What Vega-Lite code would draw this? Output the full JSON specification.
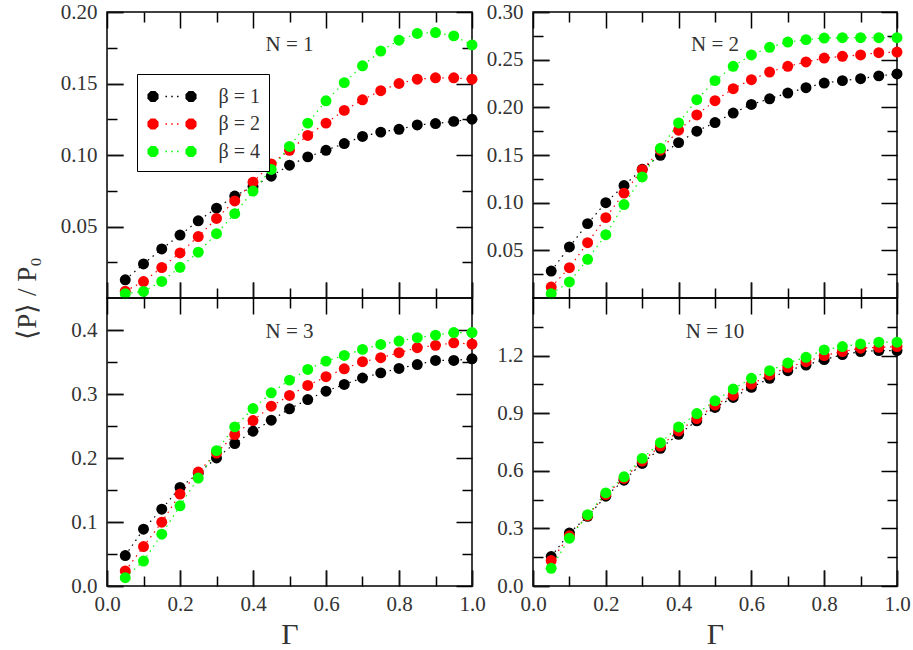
{
"$schema":"https://vega.github.io/schema/vega-lite/v6.json",
"padding":{"left":12,"top":0,"right":10,"bottom":5},
"background":"white",
"config":{
 "view":{"stroke":"black","strokeWidth":1.5,"fill":"transparent"},
 "axis":{"domain":false,"grid":false,"tickWidth":1.5,"gridWidth":1.5,"gridColor":"#000000","gridOpacity":1,"labelFont":"Liberation Serif","labelFontSize":21,"labelColor":"#333","titleFont":"Liberation Serif","titleFontWeight":"normal","titleColor":"#333","labelFlush":false,"labelOverlap":false,"labelBound":false},
 "title":{"font":"Liberation Serif","fontSize":21,"fontWeight":"normal","color":"#333","anchor":"middle","frame":"group","baseline":"alphabetic"}
},
"datasets":{"d":[
{"N":1,"b":"β = 1","g":0.05,"p":0.0127},{"N":1,"b":"β = 1","g":0.1,"p":0.0238},{"N":1,"b":"β = 1","g":0.15,"p":0.0343},{"N":1,"b":"β = 1","g":0.2,"p":0.044},{"N":1,"b":"β = 1","g":0.25,"p":0.054},{"N":1,"b":"β = 1","g":0.3,"p":0.0628},{"N":1,"b":"β = 1","g":0.35,"p":0.0713},{"N":1,"b":"β = 1","g":0.4,"p":0.078},{"N":1,"b":"β = 1","g":0.45,"p":0.0852},{"N":1,"b":"β = 1","g":0.5,"p":0.0929},{"N":1,"b":"β = 1","g":0.55,"p":0.0987},{"N":1,"b":"β = 1","g":0.6,"p":0.1033},{"N":1,"b":"β = 1","g":0.65,"p":0.108},{"N":1,"b":"β = 1","g":0.7,"p":0.113},{"N":1,"b":"β = 1","g":0.75,"p":0.116},{"N":1,"b":"β = 1","g":0.8,"p":0.118},{"N":1,"b":"β = 1","g":0.85,"p":0.121},{"N":1,"b":"β = 1","g":0.9,"p":0.122},{"N":1,"b":"β = 1","g":0.95,"p":0.1235},{"N":1,"b":"β = 1","g":1,"p":0.125},
{"N":1,"b":"β = 2","g":0.05,"p":0.0048},{"N":1,"b":"β = 2","g":0.1,"p":0.0115},{"N":1,"b":"β = 2","g":0.15,"p":0.0213},{"N":1,"b":"β = 2","g":0.2,"p":0.0315},{"N":1,"b":"β = 2","g":0.25,"p":0.043},{"N":1,"b":"β = 2","g":0.3,"p":0.0556},{"N":1,"b":"β = 2","g":0.35,"p":0.0679},{"N":1,"b":"β = 2","g":0.4,"p":0.081},{"N":1,"b":"β = 2","g":0.45,"p":0.0938},{"N":1,"b":"β = 2","g":0.5,"p":0.1033},{"N":1,"b":"β = 2","g":0.55,"p":0.1137},{"N":1,"b":"β = 2","g":0.6,"p":0.1223},{"N":1,"b":"β = 2","g":0.65,"p":0.1312},{"N":1,"b":"β = 2","g":0.7,"p":0.1386},{"N":1,"b":"β = 2","g":0.75,"p":0.145},{"N":1,"b":"β = 2","g":0.8,"p":0.15},{"N":1,"b":"β = 2","g":0.85,"p":0.153},{"N":1,"b":"β = 2","g":0.9,"p":0.154},{"N":1,"b":"β = 2","g":0.95,"p":0.154},{"N":1,"b":"β = 2","g":1,"p":0.153},
{"N":1,"b":"β = 4","g":0.05,"p":0.003},{"N":1,"b":"β = 4","g":0.1,"p":0.0046},{"N":1,"b":"β = 4","g":0.15,"p":0.0116},{"N":1,"b":"β = 4","g":0.2,"p":0.0215},{"N":1,"b":"β = 4","g":0.25,"p":0.032},{"N":1,"b":"β = 4","g":0.3,"p":0.045},{"N":1,"b":"β = 4","g":0.35,"p":0.059},{"N":1,"b":"β = 4","g":0.4,"p":0.0748},{"N":1,"b":"β = 4","g":0.45,"p":0.0899},{"N":1,"b":"β = 4","g":0.5,"p":0.106},{"N":1,"b":"β = 4","g":0.55,"p":0.1223},{"N":1,"b":"β = 4","g":0.6,"p":0.1379},{"N":1,"b":"β = 4","g":0.65,"p":0.1506},{"N":1,"b":"β = 4","g":0.7,"p":0.1624},{"N":1,"b":"β = 4","g":0.75,"p":0.1727},{"N":1,"b":"β = 4","g":0.8,"p":0.1803},{"N":1,"b":"β = 4","g":0.85,"p":0.185},{"N":1,"b":"β = 4","g":0.9,"p":0.1856},{"N":1,"b":"β = 4","g":0.95,"p":0.1833},{"N":1,"b":"β = 4","g":1,"p":0.177},
{"N":2,"b":"β = 1","g":0.05,"p":0.0283},{"N":2,"b":"β = 1","g":0.1,"p":0.0535},{"N":2,"b":"β = 1","g":0.15,"p":0.078},{"N":2,"b":"β = 1","g":0.2,"p":0.1},{"N":2,"b":"β = 1","g":0.25,"p":0.118},{"N":2,"b":"β = 1","g":0.3,"p":0.135},{"N":2,"b":"β = 1","g":0.35,"p":0.1497},{"N":2,"b":"β = 1","g":0.4,"p":0.163},{"N":2,"b":"β = 1","g":0.45,"p":0.175},{"N":2,"b":"β = 1","g":0.5,"p":0.184},{"N":2,"b":"β = 1","g":0.55,"p":0.194},{"N":2,"b":"β = 1","g":0.6,"p":0.203},{"N":2,"b":"β = 1","g":0.65,"p":0.209},{"N":2,"b":"β = 1","g":0.7,"p":0.215},{"N":2,"b":"β = 1","g":0.75,"p":0.2206},{"N":2,"b":"β = 1","g":0.8,"p":0.2255},{"N":2,"b":"β = 1","g":0.85,"p":0.228},{"N":2,"b":"β = 1","g":0.9,"p":0.23},{"N":2,"b":"β = 1","g":0.95,"p":0.233},{"N":2,"b":"β = 1","g":1,"p":0.235},
{"N":2,"b":"β = 2","g":0.05,"p":0.0115},{"N":2,"b":"β = 2","g":0.1,"p":0.0318},{"N":2,"b":"β = 2","g":0.15,"p":0.058},{"N":2,"b":"β = 2","g":0.2,"p":0.0843},{"N":2,"b":"β = 2","g":0.25,"p":0.11},{"N":2,"b":"β = 2","g":0.3,"p":0.1346},{"N":2,"b":"β = 2","g":0.35,"p":0.155},{"N":2,"b":"β = 2","g":0.4,"p":0.176},{"N":2,"b":"β = 2","g":0.45,"p":0.192},{"N":2,"b":"β = 2","g":0.5,"p":0.207},{"N":2,"b":"β = 2","g":0.55,"p":0.2196},{"N":2,"b":"β = 2","g":0.6,"p":0.229},{"N":2,"b":"β = 2","g":0.65,"p":0.237},{"N":2,"b":"β = 2","g":0.7,"p":0.243},{"N":2,"b":"β = 2","g":0.75,"p":0.2476},{"N":2,"b":"β = 2","g":0.8,"p":0.2517},{"N":2,"b":"β = 2","g":0.85,"p":0.2535},{"N":2,"b":"β = 2","g":0.9,"p":0.255},{"N":2,"b":"β = 2","g":0.95,"p":0.2573},{"N":2,"b":"β = 2","g":1,"p":0.258},
{"N":2,"b":"β = 4","g":0.05,"p":0.0045},{"N":2,"b":"β = 4","g":0.1,"p":0.0168},{"N":2,"b":"β = 4","g":0.15,"p":0.0406},{"N":2,"b":"β = 4","g":0.2,"p":0.0664},{"N":2,"b":"β = 4","g":0.25,"p":0.098},{"N":2,"b":"β = 4","g":0.3,"p":0.127},{"N":2,"b":"β = 4","g":0.35,"p":0.157},{"N":2,"b":"β = 4","g":0.4,"p":0.1836},{"N":2,"b":"β = 4","g":0.45,"p":0.208},{"N":2,"b":"β = 4","g":0.5,"p":0.228},{"N":2,"b":"β = 4","g":0.55,"p":0.243},{"N":2,"b":"β = 4","g":0.6,"p":0.255},{"N":2,"b":"β = 4","g":0.65,"p":0.263},{"N":2,"b":"β = 4","g":0.7,"p":0.2685},{"N":2,"b":"β = 4","g":0.75,"p":0.271},{"N":2,"b":"β = 4","g":0.8,"p":0.2727},{"N":2,"b":"β = 4","g":0.85,"p":0.273},{"N":2,"b":"β = 4","g":0.9,"p":0.273},{"N":2,"b":"β = 4","g":0.95,"p":0.273},{"N":2,"b":"β = 4","g":1,"p":0.273},
{"N":3,"b":"β = 1","g":0.05,"p":0.0475},{"N":3,"b":"β = 1","g":0.1,"p":0.0888},{"N":3,"b":"β = 1","g":0.15,"p":0.12},{"N":3,"b":"β = 1","g":0.2,"p":0.154},{"N":3,"b":"β = 1","g":0.25,"p":0.176},{"N":3,"b":"β = 1","g":0.3,"p":0.2},{"N":3,"b":"β = 1","g":0.35,"p":0.2225},{"N":3,"b":"β = 1","g":0.4,"p":0.2418},{"N":3,"b":"β = 1","g":0.45,"p":0.259},{"N":3,"b":"β = 1","g":0.5,"p":0.2768},{"N":3,"b":"β = 1","g":0.55,"p":0.2914},{"N":3,"b":"β = 1","g":0.6,"p":0.3044},{"N":3,"b":"β = 1","g":0.65,"p":0.315},{"N":3,"b":"β = 1","g":0.7,"p":0.325},{"N":3,"b":"β = 1","g":0.75,"p":0.333},{"N":3,"b":"β = 1","g":0.8,"p":0.34},{"N":3,"b":"β = 1","g":0.85,"p":0.346},{"N":3,"b":"β = 1","g":0.9,"p":0.3525},{"N":3,"b":"β = 1","g":0.95,"p":0.3525},{"N":3,"b":"β = 1","g":1,"p":0.355},
{"N":3,"b":"β = 2","g":0.05,"p":0.0235},{"N":3,"b":"β = 2","g":0.1,"p":0.0616},{"N":3,"b":"β = 2","g":0.15,"p":0.0997},{"N":3,"b":"β = 2","g":0.2,"p":0.1436},{"N":3,"b":"β = 2","g":0.25,"p":0.178},{"N":3,"b":"β = 2","g":0.3,"p":0.2078},{"N":3,"b":"β = 2","g":0.35,"p":0.2366},{"N":3,"b":"β = 2","g":0.4,"p":0.2585},{"N":3,"b":"β = 2","g":0.45,"p":0.281},{"N":3,"b":"β = 2","g":0.5,"p":0.2977},{"N":3,"b":"β = 2","g":0.55,"p":0.3133},{"N":3,"b":"β = 2","g":0.6,"p":0.327},{"N":3,"b":"β = 2","g":0.65,"p":0.3394},{"N":3,"b":"β = 2","g":0.7,"p":0.3504},{"N":3,"b":"β = 2","g":0.75,"p":0.3567},{"N":3,"b":"β = 2","g":0.8,"p":0.3645},{"N":3,"b":"β = 2","g":0.85,"p":0.3723},{"N":3,"b":"β = 2","g":0.9,"p":0.376},{"N":3,"b":"β = 2","g":0.95,"p":0.38},{"N":3,"b":"β = 2","g":1,"p":0.378},
{"N":3,"b":"β = 4","g":0.05,"p":0.013},{"N":3,"b":"β = 4","g":0.1,"p":0.039},{"N":3,"b":"β = 4","g":0.15,"p":0.081},{"N":3,"b":"β = 4","g":0.2,"p":0.1253},{"N":3,"b":"β = 4","g":0.25,"p":0.1687},{"N":3,"b":"β = 4","g":0.3,"p":0.2115},{"N":3,"b":"β = 4","g":0.35,"p":0.2486},{"N":3,"b":"β = 4","g":0.4,"p":0.2773},{"N":3,"b":"β = 4","g":0.45,"p":0.3018},{"N":3,"b":"β = 4","g":0.5,"p":0.3217},{"N":3,"b":"β = 4","g":0.55,"p":0.3384},{"N":3,"b":"β = 4","g":0.6,"p":0.3514},{"N":3,"b":"β = 4","g":0.65,"p":0.3603},{"N":3,"b":"β = 4","g":0.7,"p":0.3697},{"N":3,"b":"β = 4","g":0.75,"p":0.3775},{"N":3,"b":"β = 4","g":0.8,"p":0.3828},{"N":3,"b":"β = 4","g":0.85,"p":0.388},{"N":3,"b":"β = 4","g":0.9,"p":0.392},{"N":3,"b":"β = 4","g":0.95,"p":0.396},{"N":3,"b":"β = 4","g":1,"p":0.396},
{"N":10,"b":"β = 1","g":0.05,"p":0.1535},{"N":10,"b":"β = 1","g":0.1,"p":0.2756},{"N":10,"b":"β = 1","g":0.15,"p":0.363},{"N":10,"b":"β = 1","g":0.2,"p":0.4675},{"N":10,"b":"β = 1","g":0.25,"p":0.551},{"N":10,"b":"β = 1","g":0.3,"p":0.6384},{"N":10,"b":"β = 1","g":0.35,"p":0.717},{"N":10,"b":"β = 1","g":0.4,"p":0.79},{"N":10,"b":"β = 1","g":0.45,"p":0.86},{"N":10,"b":"β = 1","g":0.5,"p":0.93},{"N":10,"b":"β = 1","g":0.55,"p":0.982},{"N":10,"b":"β = 1","g":0.6,"p":1.0344},{"N":10,"b":"β = 1","g":0.65,"p":1.0815},{"N":10,"b":"β = 1","g":0.7,"p":1.1216},{"N":10,"b":"β = 1","g":0.75,"p":1.151},{"N":10,"b":"β = 1","g":0.8,"p":1.179},{"N":10,"b":"β = 1","g":0.85,"p":1.205},{"N":10,"b":"β = 1","g":0.9,"p":1.221},{"N":10,"b":"β = 1","g":0.95,"p":1.2265},{"N":10,"b":"β = 1","g":1,"p":1.226},
{"N":10,"b":"β = 2","g":0.05,"p":0.1326},{"N":10,"b":"β = 2","g":0.1,"p":0.2616},{"N":10,"b":"β = 2","g":0.15,"p":0.3663},{"N":10,"b":"β = 2","g":0.2,"p":0.476},{"N":10,"b":"β = 2","g":0.25,"p":0.56},{"N":10,"b":"β = 2","g":0.3,"p":0.6506},{"N":10,"b":"β = 2","g":0.35,"p":0.729},{"N":10,"b":"β = 2","g":0.4,"p":0.8076},{"N":10,"b":"β = 2","g":0.45,"p":0.872},{"N":10,"b":"β = 2","g":0.5,"p":0.942},{"N":10,"b":"β = 2","g":0.55,"p":0.994},{"N":10,"b":"β = 2","g":0.6,"p":1.051},{"N":10,"b":"β = 2","g":0.65,"p":1.099},{"N":10,"b":"β = 2","g":0.7,"p":1.139},{"N":10,"b":"β = 2","g":0.75,"p":1.1685},{"N":10,"b":"β = 2","g":0.8,"p":1.2},{"N":10,"b":"β = 2","g":0.85,"p":1.221},{"N":10,"b":"β = 2","g":0.9,"p":1.2385},{"N":10,"b":"β = 2","g":0.95,"p":1.2433},{"N":10,"b":"β = 2","g":1,"p":1.247},
{"N":10,"b":"β = 4","g":0.05,"p":0.0924},{"N":10,"b":"β = 4","g":0.1,"p":0.249},{"N":10,"b":"β = 4","g":0.15,"p":0.3715},{"N":10,"b":"β = 4","g":0.2,"p":0.485},{"N":10,"b":"β = 4","g":0.25,"p":0.5686},{"N":10,"b":"β = 4","g":0.3,"p":0.6646},{"N":10,"b":"β = 4","g":0.35,"p":0.7465},{"N":10,"b":"β = 4","g":0.4,"p":0.8285},{"N":10,"b":"β = 4","g":0.45,"p":0.898},{"N":10,"b":"β = 4","g":0.5,"p":0.9646},{"N":10,"b":"β = 4","g":0.55,"p":1.0256},{"N":10,"b":"β = 4","g":0.6,"p":1.0815},{"N":10,"b":"β = 4","g":0.65,"p":1.1216},{"N":10,"b":"β = 4","g":0.7,"p":1.1617},{"N":10,"b":"β = 4","g":0.75,"p":1.1913},{"N":10,"b":"β = 4","g":0.8,"p":1.2297},{"N":10,"b":"β = 4","g":0.85,"p":1.2472},{"N":10,"b":"β = 4","g":0.9,"p":1.261},{"N":10,"b":"β = 4","g":0.95,"p":1.2698},{"N":10,"b":"β = 4","g":1,"p":1.27}
]},
"data":{"name":"d"},
"columns":2,
"spacing":{"row":0,"column":61},
"bounds":"flush",
"resolve":{"legend":{"color":"independent"}},
"concat":[
{
 "width":365,"height":286,"title":{"text":"N = 1","offset":-54},
 "transform":[{"filter":"datum.N == 1"}],
 "layer":[
  {"mark":{"type":"line","strokeDash":[1.5,4.5],"strokeWidth":1.2},
   "encoding":{
    "x":{"field":"g","type":"quantitative","scale":{"domain":[0,1],"nice":false},"axis":{"orient":"bottom","values":[0,0.2,0.4,0.6,0.8,1],"offset":-16,"tickSize":16,"tickColor":"#111111","labels":false,"title":null}},
    "y":{"field":"p","type":"quantitative","scale":{"domain":[0,0.2],"nice":false},"axis":{"orient":"left","values":[0.05,0.1,0.15,0.2],"format":".2f","offset":-16,"tickSize":16,"tickColor":"#111111","labelPadding":10,"title":"⟨P⟩ / P₀","titleX":-96,"titleY":286,"titleAlign":"center","titleBaseline":"middle","titleAngle":-90,"titleFontSize":27}},
    "stroke":{"field":"b","type":"nominal","scale":{"domain":["β = 1","β = 2","β = 4"],"range":["#000000","#ff0000","#00ff00"]},"legend":null}}},
  {"mark":{"type":"point","shape":"circle","filled":true,"size":120,"opacity":1},
   "encoding":{
    "x":{"field":"g","type":"quantitative","scale":{"domain":[0,1],"nice":false},"axis":{"orient":"top","values":[0,0.2,0.4,0.6,0.8,1],"ticks":false,"labels":false,"title":null,"grid":true,"gridDash":[16,254,16,2000]}},
    "y":{"field":"p","type":"quantitative","scale":{"domain":[0,0.2],"nice":false},"axis":{"orient":"right","values":[0.05,0.1,0.15,0.2],"ticks":false,"labels":false,"title":null,"grid":true,"gridDash":[16,333,16,2000]}},
    "color":{"field":"b","type":"nominal","scale":{"domain":["β = 1","β = 2","β = 4"],"range":["#000000","#ff0000","#00ff00"]},
     "legend":{"orient":"none","legendX":30,"legendY":62,"title":null,"strokeColor":"black","fillColor":"white","padding":9,"rowPadding":3.5,"symbolOffset":12.5,"labelOffset":33,"labelFont":"Liberation Serif","labelFontSize":20,"labelColor":"#333","symbolSize":625,
      "symbolType":"M-1.0765,0.184L-1.336,0.4435L-1.704,0.4435L-1.9635,0.184L-1.9635,-0.184L-1.704,-0.4435L-1.336,-0.4435L-1.0765,-0.184Z M1.0765,0.184L1.336,0.4435L1.704,0.4435L1.9635,0.184L1.9635,-0.184L1.704,-0.4435L1.336,-0.4435L1.0765,-0.184Z M-0.52,-0.06L-0.4,-0.06L-0.4,0.06L-0.52,0.06Z M-0.06,-0.06L0.06,-0.06L0.06,0.06L-0.06,0.06Z M0.4,-0.06L0.52,-0.06L0.52,0.06L0.4,0.06Z"}}}},
  {"mark":{"type":"point","opacity":0},
   "encoding":{
    "x":{"field":"g","type":"quantitative","scale":{"domain":[0,1],"nice":false},"axis":{"orient":"bottom","values":[0.1,0.3,0.5,0.7,0.9],"ticks":false,"labels":false,"title":null,"grid":true,"gridDash":[10,266,10,2000]}},
    "y":{"field":"p","type":"quantitative","scale":{"domain":[0,0.2],"nice":false},"axis":{"orient":"left","values":[0.025,0.075,0.125,0.175],"ticks":false,"labels":false,"title":null,"grid":true,"gridDash":[10,345,10,2000]}}}}
 ],
 "resolve":{"axis":{"x":"independent","y":"independent"}}
},
{
 "width":364,"height":286,"title":{"text":"N = 2","offset":-54},
 "transform":[{"filter":"datum.N == 2"}],
 "layer":[
  {"mark":{"type":"line","strokeDash":[1.5,4.5],"strokeWidth":1.2},
   "encoding":{
    "x":{"field":"g","type":"quantitative","scale":{"domain":[0,1],"nice":false},"axis":{"orient":"bottom","values":[0,0.2,0.4,0.6,0.8,1],"offset":-16,"tickSize":16,"tickColor":"#111111","labels":false,"title":null}},
    "y":{"field":"p","type":"quantitative","scale":{"domain":[0,0.3],"nice":false},"axis":{"orient":"left","values":[0.05,0.1,0.15,0.2,0.25,0.3],"format":".2f","offset":-16,"tickSize":16,"tickColor":"#111111","labelPadding":10,"title":null}},
    "stroke":{"field":"b","type":"nominal","scale":{"domain":["β = 1","β = 2","β = 4"],"range":["#000000","#ff0000","#00ff00"]},"legend":null}}},
  {"mark":{"type":"point","shape":"circle","filled":true,"size":120,"opacity":1},
   "encoding":{
    "x":{"field":"g","type":"quantitative","scale":{"domain":[0,1],"nice":false},"axis":{"orient":"top","values":[0,0.2,0.4,0.6,0.8,1],"ticks":false,"labels":false,"title":null,"grid":true,"gridDash":[16,254,16,2000]}},
    "y":{"field":"p","type":"quantitative","scale":{"domain":[0,0.3],"nice":false},"axis":{"orient":"right","values":[0.05,0.1,0.15,0.2,0.25,0.3],"ticks":false,"labels":false,"title":null,"grid":true,"gridDash":[16,332,16,2000]}},
    "fill":{"field":"b","type":"nominal","scale":{"domain":["β = 1","β = 2","β = 4"],"range":["#000000","#ff0000","#00ff00"]},"legend":null}}},
  {"mark":{"type":"point","opacity":0},
   "encoding":{
    "x":{"field":"g","type":"quantitative","scale":{"domain":[0,1],"nice":false},"axis":{"orient":"bottom","values":[0.1,0.3,0.5,0.7,0.9],"ticks":false,"labels":false,"title":null,"grid":true,"gridDash":[10,266,10,2000]}},
    "y":{"field":"p","type":"quantitative","scale":{"domain":[0,0.3],"nice":false},"axis":{"orient":"left","values":[0.025,0.075,0.125,0.175,0.225,0.275],"ticks":false,"labels":false,"title":null,"grid":true,"gridDash":[10,344,10,2000]}}}}
 ],
 "resolve":{"axis":{"x":"independent","y":"independent"}}
},
{
 "width":365,"height":288,"title":{"text":"N = 3","offset":-44},
 "transform":[{"filter":"datum.N == 3"}],
 "layer":[
  {"mark":{"type":"line","strokeDash":[1.5,4.5],"strokeWidth":1.2},
   "encoding":{
    "x":{"field":"g","type":"quantitative","scale":{"domain":[0,1],"nice":false},"axis":{"orient":"bottom","values":[0,0.2,0.4,0.6,0.8,1],"format":".1f","offset":-16,"tickSize":16,"tickColor":"#111111","labelPadding":7,"title":"Γ","titleFontSize":30,"titlePadding":5}},
    "y":{"field":"p","type":"quantitative","scale":{"domain":[0,0.45],"nice":false},"axis":{"orient":"left","values":[0,0.1,0.2,0.3,0.4],"format":".1f","offset":-16,"tickSize":16,"tickColor":"#111111","labelPadding":10,"title":null}},
    "stroke":{"field":"b","type":"nominal","scale":{"domain":["β = 1","β = 2","β = 4"],"range":["#000000","#ff0000","#00ff00"]},"legend":null}}},
  {"mark":{"type":"point","shape":"circle","filled":true,"size":120,"opacity":1},
   "encoding":{
    "x":{"field":"g","type":"quantitative","scale":{"domain":[0,1],"nice":false},"axis":{"orient":"top","values":[0,0.2,0.4,0.6,0.8,1],"ticks":false,"labels":false,"title":null,"grid":true,"gridDash":[16,256,16,2000]}},
    "y":{"field":"p","type":"quantitative","scale":{"domain":[0,0.45],"nice":false},"axis":{"orient":"right","values":[0,0.1,0.2,0.3,0.4],"ticks":false,"labels":false,"title":null,"grid":true,"gridDash":[16,333,16,2000]}},
    "fill":{"field":"b","type":"nominal","scale":{"domain":["β = 1","β = 2","β = 4"],"range":["#000000","#ff0000","#00ff00"]},"legend":null}}},
  {"mark":{"type":"point","opacity":0},
   "encoding":{
    "x":{"field":"g","type":"quantitative","scale":{"domain":[0,1],"nice":false},"axis":{"orient":"bottom","values":[0.1,0.3,0.5,0.7,0.9],"ticks":false,"labels":false,"title":null,"grid":true,"gridDash":[10,268,10,2000]}},
    "y":{"field":"p","type":"quantitative","scale":{"domain":[0,0.45],"nice":false},"axis":{"orient":"left","values":[0.05,0.15,0.25,0.35],"ticks":false,"labels":false,"title":null,"grid":true,"gridDash":[10,345,10,2000]}}}}
 ],
 "resolve":{"axis":{"x":"independent","y":"independent"}}
},
{
 "width":364,"height":288,"title":{"text":"N = 10","offset":-44},
 "transform":[{"filter":"datum.N == 10"}],
 "layer":[
  {"mark":{"type":"line","strokeDash":[1.5,4.5],"strokeWidth":1.2},
   "encoding":{
    "x":{"field":"g","type":"quantitative","scale":{"domain":[0,1],"nice":false},"axis":{"orient":"bottom","values":[0,0.2,0.4,0.6,0.8,1],"format":".1f","offset":-16,"tickSize":16,"tickColor":"#111111","labelPadding":7,"title":"Γ","titleFontSize":30,"titlePadding":5}},
    "y":{"field":"p","type":"quantitative","scale":{"domain":[0,1.5],"nice":false},"axis":{"orient":"left","values":[0,0.3,0.6,0.9,1.2],"format":".1f","offset":-16,"tickSize":16,"tickColor":"#111111","labelPadding":10,"title":null}},
    "stroke":{"field":"b","type":"nominal","scale":{"domain":["β = 1","β = 2","β = 4"],"range":["#000000","#ff0000","#00ff00"]},"legend":null}}},
  {"mark":{"type":"point","shape":"circle","filled":true,"size":120,"opacity":1},
   "encoding":{
    "x":{"field":"g","type":"quantitative","scale":{"domain":[0,1],"nice":false},"axis":{"orient":"top","values":[0,0.2,0.4,0.6,0.8,1],"ticks":false,"labels":false,"title":null,"grid":true,"gridDash":[16,256,16,2000]}},
    "y":{"field":"p","type":"quantitative","scale":{"domain":[0,1.5],"nice":false},"axis":{"orient":"right","values":[0,0.3,0.6,0.9,1.2],"ticks":false,"labels":false,"title":null,"grid":true,"gridDash":[16,332,16,2000]}},
    "fill":{"field":"b","type":"nominal","scale":{"domain":["β = 1","β = 2","β = 4"],"range":["#000000","#ff0000","#00ff00"]},"legend":null}}},
  {"mark":{"type":"point","opacity":0},
   "encoding":{
    "x":{"field":"g","type":"quantitative","scale":{"domain":[0,1],"nice":false},"axis":{"orient":"bottom","values":[0.1,0.3,0.5,0.7,0.9],"ticks":false,"labels":false,"title":null,"grid":true,"gridDash":[10,268,10,2000]}},
    "y":{"field":"p","type":"quantitative","scale":{"domain":[0,1.5],"nice":false},"axis":{"orient":"left","values":[0.15,0.45,0.75,1.05,1.35],"ticks":false,"labels":false,"title":null,"grid":true,"gridDash":[10,344,10,2000]}}}}
 ],
 "resolve":{"axis":{"x":"independent","y":"independent"}}
}
]
}
